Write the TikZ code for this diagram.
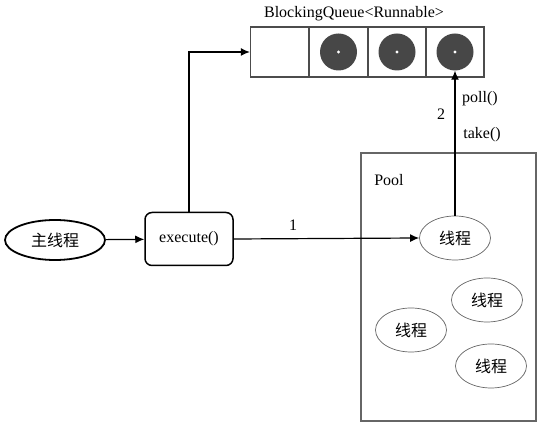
\documentclass[tikz,border=0pt]{standalone}
\usepackage{fontspec}
\setmainfont{Liberation Serif}
\newfontfamily\cjk{Noto Sans CJK SC}
\usetikzlibrary{arrows.meta,shapes.geometric}

\begin{document}
\begin{tikzpicture}[x=1pt,y=-1pt,font=\fontsize{16}{19}\selectfont,
    line/.style={line width=1.2pt,-{Latex[length=9pt,width=8pt]}},
    cell/.style={draw=black!70,line width=1.3pt,minimum width=58pt,minimum height=50pt,inner sep=0pt},
    item/.style={circle,fill=black!72,minimum size=37pt,inner sep=0pt},
    thread/.style={ellipse,draw=black!60,line width=0.7pt,minimum width=71pt,minimum height=44pt,inner sep=0pt}]
    \useasboundingbox (0,0) rectangle (555,427);
    % queue
    \node (ql) at (354,14) {BlockingQueue<Runnable>};
    \foreach \i/\x in {1/279.5,2/338.5,3/397,4/455}
        \node[cell] (c\i) at (\x,52) {};
    \foreach \i in {2,3,4} {
        \node[item] (d\i) at (c\i) {};
        \fill[white] (d\i) circle (1.6pt);
    }
    % pool
    \draw[black!60,line width=1.3pt] (361,153) rectangle (536,421);
    \node (pl) at (389,180) {Pool};
    \node[thread] (t1) at (455,238) {\cjk 线程};
    \node[thread] (t2) at (487,300) {\cjk 线程};
    \node[thread] (t3) at (411,330) {\cjk 线程};
    \node[thread] (t4) at (491,366) {\cjk 线程};
    % main
    \node[ellipse,draw,line width=1.8pt,minimum width=100pt,minimum height=40pt,inner sep=0pt] (main) at (55,240) {\cjk 主线程};
    \node[draw,rounded corners=7pt,line width=1.5pt,minimum width=88pt,minimum height=53pt] (exec) at (189,239) {execute()};
    \draw [line] (main) to (exec);
    \draw [line] (exec.north) |- (c1.west);
    \draw [line] (exec.east) to node[above=4pt,pos=0.32] {1} (t1.west);
    \draw [line] (t1.north) to node[left=6pt,pos=0.7] {2} (d4.south);
    \node (po) at (480,99) {poll()};
    \node (tk) at (482,135) {take()};
\end{tikzpicture}
\end{document}
